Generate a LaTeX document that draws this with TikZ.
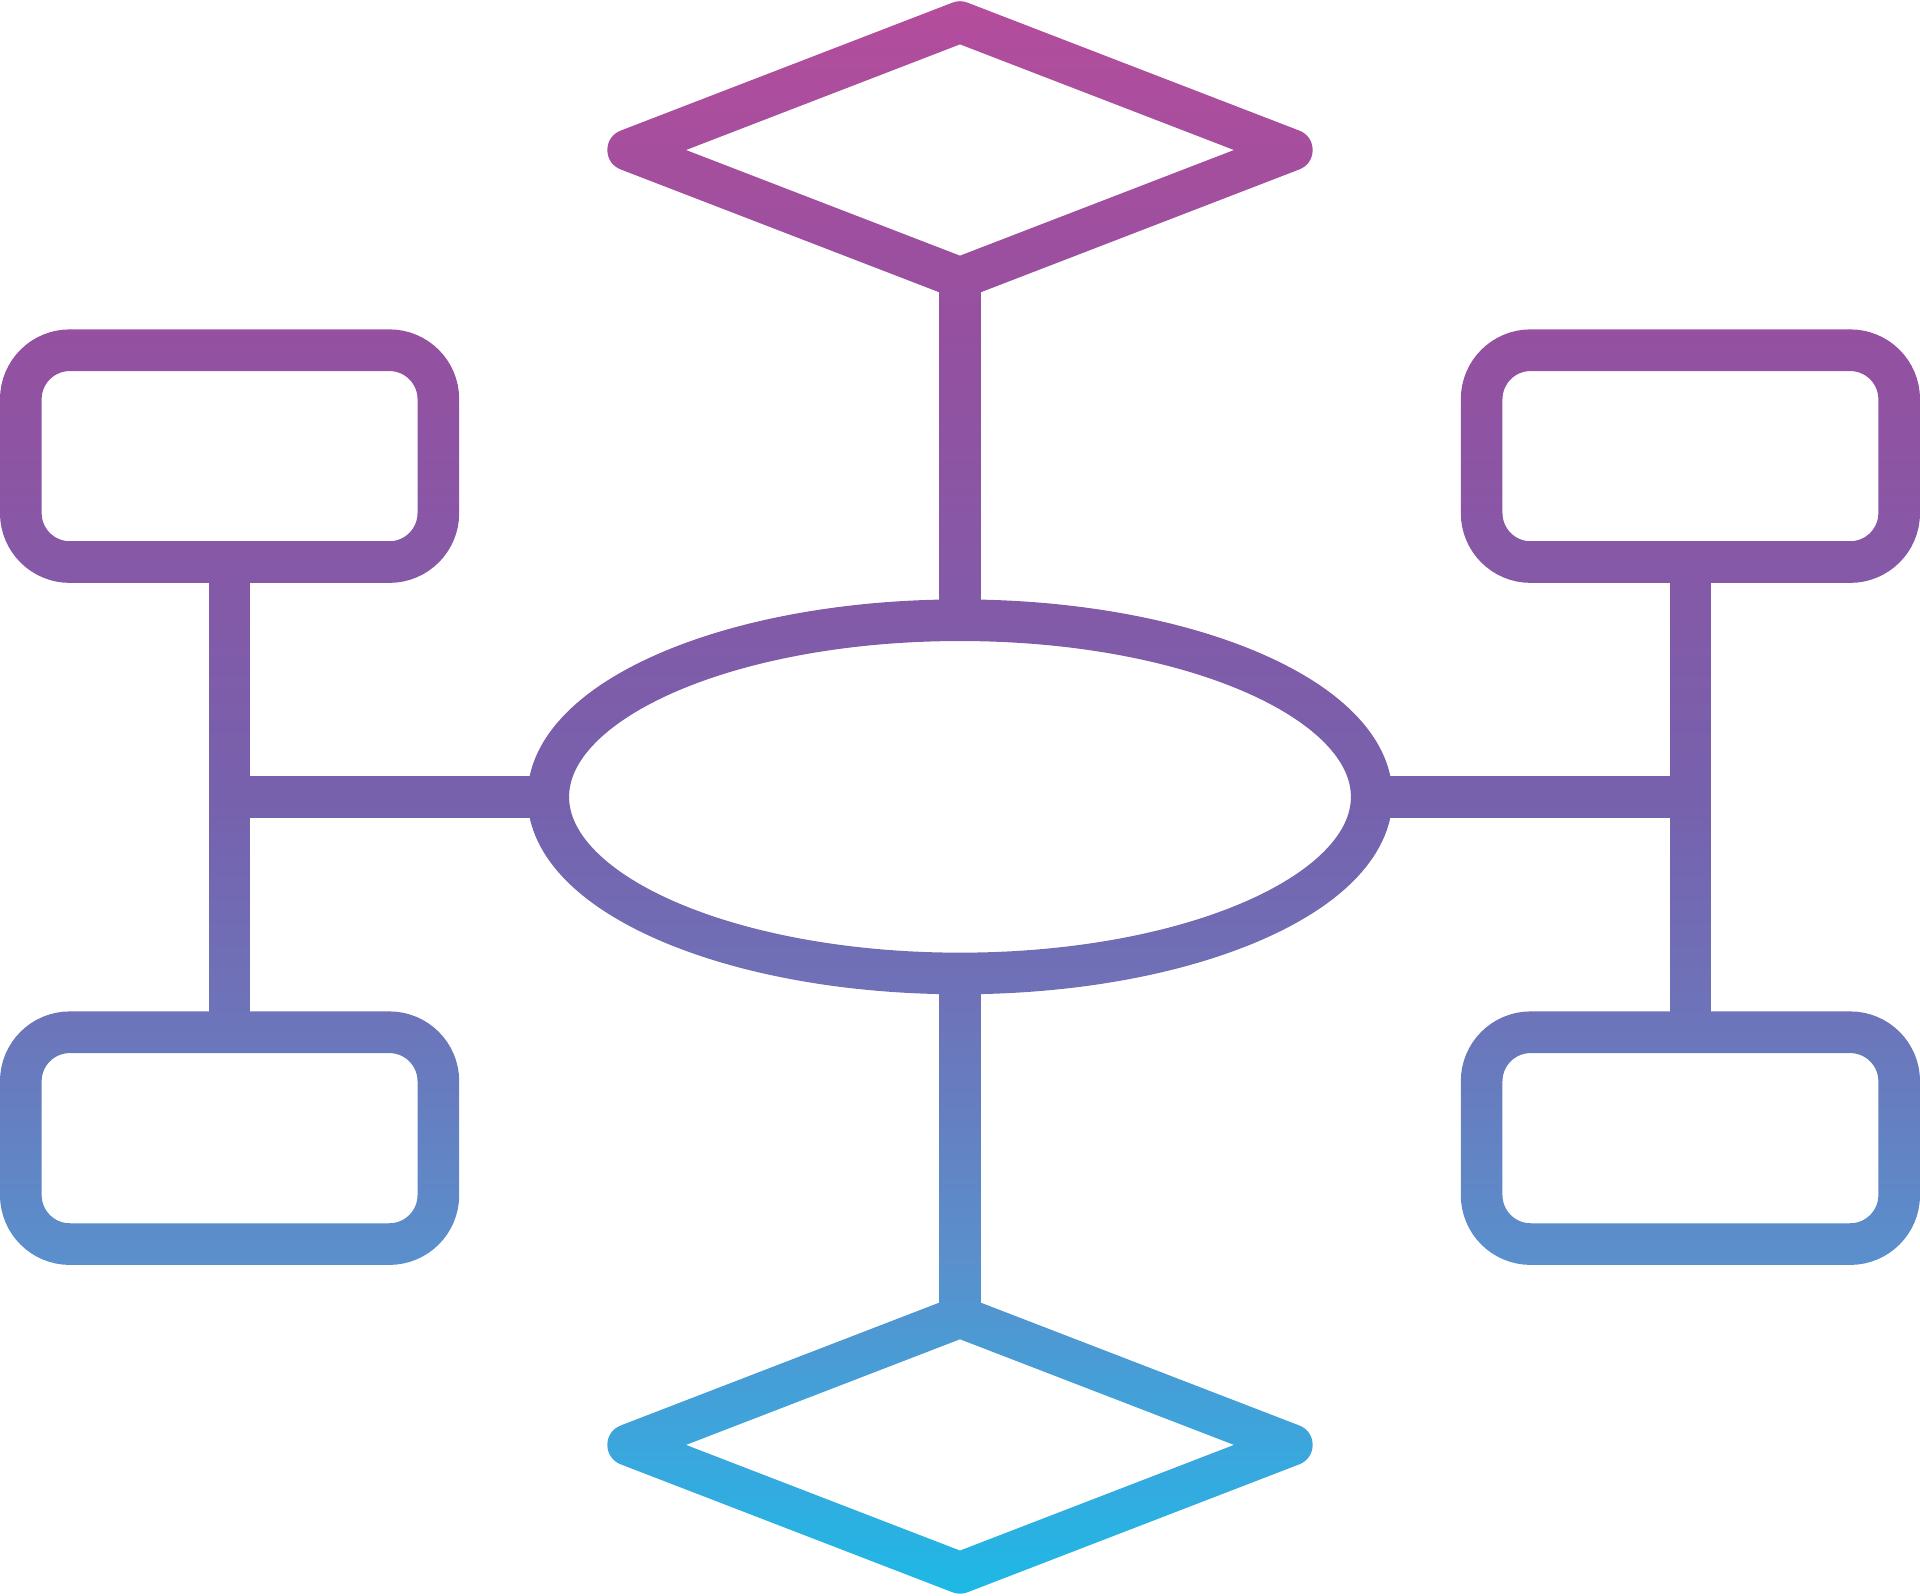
\documentclass[tikz,border=0pt]{standalone}
\usepackage{tikz}
\usetikzlibrary{shapes.geometric}
\usetikzlibrary{positioning}
\definecolor{shadeA}{HTML}{B44D9C}
\definecolor{shadeB}{HTML}{9550A0}
\definecolor{shadeC}{HTML}{7661AD}
\definecolor{shadeD}{HTML}{6E72B8}
\definecolor{shadeE}{HTML}{5A8FCC}
\definecolor{shadeF}{HTML}{37A9DF}
\definecolor{shadeG}{HTML}{1CB9E5}
\pgfdeclareverticalshading{iconshade}{100bp}{color(0bp)=(shadeG); color(25bp)=(shadeG); color(28.9bp)=(shadeF); color(35.7bp)=(shadeE); color(43.7bp)=(shadeD); color(49.9bp)=(shadeC); color(64.7bp)=(shadeB); color(75bp)=(shadeA); color(100bp)=(shadeA)}
\tikzset{
    decision/.style={
           diamond,
           draw=black, line width=3.4mm,
           line join=round,
           inner sep=0pt, outer sep=0pt,
           minimum width=54.2mm, minimum height=20.9mm,
           },
}
\tikzset{
    hub/.style={
           ellipse,
           draw=black, line width=3.4mm,
           inner sep=0pt, outer sep=0pt,
           minimum width=67.25mm, minimum height=28.85mm,
           },
}
\tikzset{
    card/.style={
           rectangle,
           draw=black, line width=3.4mm,
           rounded corners=4mm,
           inner sep=0pt, outer sep=0pt,
           minimum width=34.1mm, minimum height=17.3mm,
           },
}
\tikzset{
    link/.style={
           draw=black, line width=3.4mm,
           },
}

\begin{document}
\begin{tikzpicture}[x=0.1mm,y=-0.1mm]
\useasboundingbox (0,0) rectangle (1568,1303);
\fill[white] (0,0) rectangle (1568,1303);
\node[hub](hub) at (784,650.75){};
\node[decision,above=27.95mm of hub](dtop){};
\node[decision,below=28.05mm of hub](dbot){};
\node[card](boxtl) at (187.5,372.5){};
\node[card,below=38.4mm of boxtl](boxbl){};
\node[card](boxtr) at (1380.5,372.5){};
\node[card,below=38.4mm of boxtr](boxbr){};
\draw[link] (dtop.south) -- (hub.north);
\draw[link] (hub.south) -- (dbot.north);
\draw[link] (boxtl.south) -- (boxbl.north);
\draw[link] (boxtr.south) -- (boxbr.north);
\draw[link] (hub.west) -- (hub.west -| boxtl.south);
\draw[link] (hub.east) -- (hub.east -| boxtr.south);
% colour the strokes from top to bottom
\begin{scope}[blend mode=screen]
\shade[shading=iconshade] (0,0) rectangle (1568,1303);
\end{scope}
\end{tikzpicture}
\end{document}
